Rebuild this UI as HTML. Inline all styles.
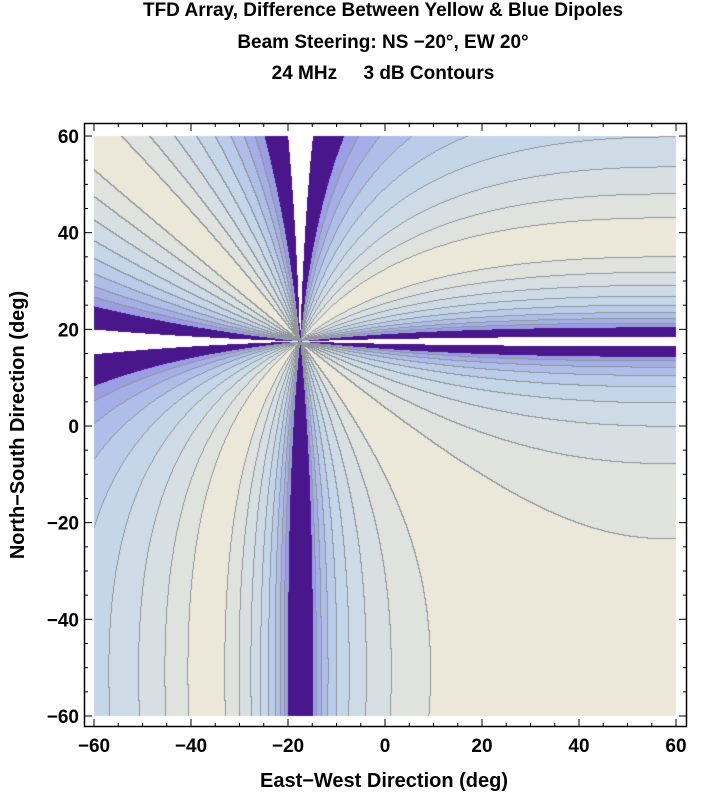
<!DOCTYPE html>
<html><head><meta charset="utf-8"><style>
body{margin:0;background:#fff;width:723px;height:797px;overflow:hidden;position:relative;font-family:"Liberation Sans",Arial,sans-serif;}
.t{position:absolute;left:0;width:766px;text-align:center;font-weight:bold;font-size:19px;color:#000;}
canvas{position:absolute;left:0;top:0;}
svg{position:absolute;left:0;top:0;}
</style></head><body>
<div class="t" style="top:0px">TFD Array, Difference Between Yellow &amp; Blue Dipoles</div>
<div class="t" style="top:32px">Beam Steering: NS &#8722;20°, EW 20°</div>
<div class="t" style="top:63px">24 MHz &nbsp;&nbsp;&nbsp; 3 dB Contours</div>
<canvas id="c" width="723" height="797"></canvas>
<svg width="723" height="797" id="s" font-family="Liberation Sans, Arial, sans-serif" font-weight="bold"></svg>
<script>
var cv=document.getElementById('c'),ctx=cv.getContext('2d');
var X0=94,X1=676,Y0=136,Y1=716;
var W=X1-X0,H=Y1-Y0;
function px2x(p){return (p-385)/4.85;}
function py2y(p){return (426-p)/4.833;}
var cols=[[235,231,217],[224,226,222],[215,223,226],[206,219,230],[197,214,233],[186,204,234],[175,190,233],[165,174,231],[155,158,226]];
var NB=cols.length,BW=0.25,TW=3.4;
var img=ctx.createImageData(W,H);
var band=new Int8Array(W*H);
for(var j=0;j<H;j++){for(var i=0;i<W;i++){
 var x=px2x(X0+i+0.5),y=py2y(Y0+j+0.5);
 var u=x+17.5,v=y-17.5;
 var g=-0.01317*x-0.01467*y+0.058;
 var f=Math.log(Math.abs(u)/Math.abs(v)+1e-9)+g;
 var a=Math.abs(f),b;
 var noWhite=(v<0&&Math.abs(u)<Math.abs(v));
 if(a>TW&&!noWhite)b=NB+1;else{b=Math.floor(a/BW);if(b>=NB)b=NB;}
 band[j*W+i]=b;
}}
for(var j=0;j<H;j++){for(var i=0;i<W;i++){
 var b=band[j*W+i],c;
 if(b==NB+1)c=[255,255,255];else if(b==NB)c=[74,22,140];else c=cols[b];
 var line=false;
 if(b<NB){
  if(i+1<W){var b2=band[j*W+i+1];if(b2!=b&&b2<NB)line=true;}
  if(j+1<H){var b3=band[(j+1)*W+i];if(b3!=b&&b3<NB)line=true;}
 }
 if(line)c=[145,150,155];
 var k=(j*W+i)*4;img.data[k]=c[0];img.data[k+1]=c[1];img.data[k+2]=c[2];img.data[k+3]=255;
}}
ctx.putImageData(img,X0,Y0);
var s='<rect x="84.5" y="123.5" width="602" height="603" fill="none" stroke="#000" stroke-width="1.5"/>';
for(var t=-60;t<=60;t+=5){
 var maj=(t%20==0),L=maj?8:4;
 var px=385+4.85*t,py=426-4.833*t;
 s+='<line x1="'+px+'" y1="727" x2="'+px+'" y2="'+(727-L)+'" stroke="#000"/>';
 s+='<line x1="'+px+'" y1="123" x2="'+px+'" y2="'+(123+L)+'" stroke="#000"/>';
 s+='<line x1="84" y1="'+py+'" x2="'+(84+L)+'" y2="'+py+'" stroke="#000"/>';
 s+='<line x1="687" y1="'+py+'" x2="'+(687-L)+'" y2="'+py+'" stroke="#000"/>';
 if(maj){
  var lab=(t<0?'\u2212'+(-t):''+t);
  s+='<text x="'+px+'" y="752" font-size="19" text-anchor="middle">'+lab+'</text>';
  s+='<text x="79" y="'+(py+7)+'" font-size="19" text-anchor="end">'+lab+'</text>';
 }
}
s+='<text x="384" y="787" font-size="20" text-anchor="middle">East\u2212West Direction (deg)</text>';
s+='<text transform="translate(24,425) rotate(-90)" font-size="20" text-anchor="middle">North\u2212South Direction (deg)</text>';
document.getElementById('s').innerHTML=s;
</script>
</body></html>
